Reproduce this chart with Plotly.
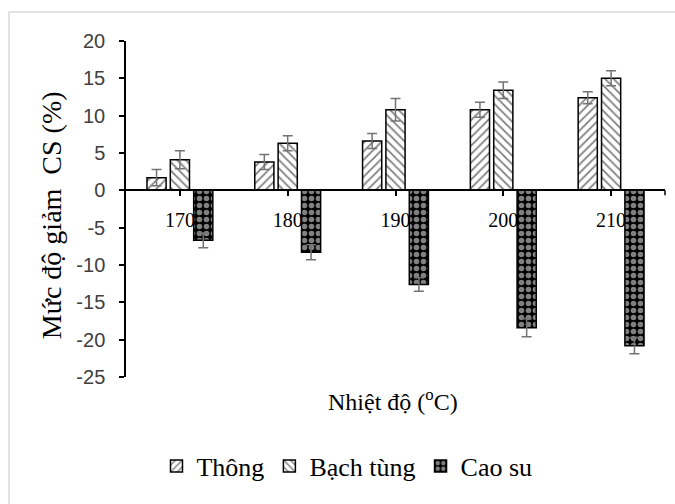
import plotly.graph_objects as go

categories = ["170", "180", "190", "200", "210"]
thong = [1.7, 3.8, 6.6, 10.8, 12.4]
thong_err = [1.1, 1.0, 1.0, 1.0, 0.8]
bach_tung = [4.1, 6.3, 10.8, 13.4, 15.0]
bach_tung_err = [1.2, 1.0, 1.5, 1.1, 1.0]
cao_su = [-6.7, -8.3, -12.6, -18.4, -20.8]
cao_su_err = [1.0, 1.0, 0.9, 1.2, 1.1]
y_ticks = [20, 15, 10, 5, 0, -5, -10, -15, -20, -25]

SERIF = '"Liberation Serif", "Times New Roman", Times, serif'
SANS = '"Liberation Sans Narrow", "Arial Narrow", "Liberation Sans", Arial, sans-serif'

err_style = dict(type="data", visible=True, color="#737373", thickness=1.5, width=5)

fig = go.Figure()
fig.add_trace(go.Bar(
    name="Thông", x=categories, y=thong,
    error_y=dict(array=thong_err, **err_style),
    marker=dict(color="white", line=dict(color="black", width=1.5),
                pattern=dict(shape="/", fgcolor="black", bgcolor="white", size=6, solidity=0.3)),
))
fig.add_trace(go.Bar(
    name="Bạch tùng", x=categories, y=bach_tung,
    error_y=dict(array=bach_tung_err, **err_style),
    marker=dict(color="white", line=dict(color="black", width=1.5),
                pattern=dict(shape="\\", fgcolor="black", bgcolor="white", size=6, solidity=0.3)),
))
fig.add_trace(go.Bar(
    name="Cao su", x=categories, y=cao_su,
    error_y=dict(array=cao_su_err, **err_style),
    marker=dict(color="black", line=dict(color="black", width=1.5),
                pattern=dict(shape=".", fgcolor="white", bgcolor="black", size=7, solidity=0.5)),
))

fig.update_layout(
    width=675, height=504,
    margin=dict(l=126, r=10, t=41, b=127),
    paper_bgcolor="white", plot_bgcolor="white",
    barmode="group", bargap=0.35, bargroupgap=0.18,
    showlegend=True,
    legend=dict(orientation="h", x=0.41, xanchor="center", y=-0.265, yanchor="middle",
                font=dict(family=SERIF, size=26, color="black"),
                itemwidth=30, traceorder="normal"),
    xaxis=dict(
        type="category", anchor="free", position=25 / 45,
        showline=True, linecolor="black", linewidth=1.5,
        ticks="outside", ticklen=5, tickwidth=1.5, tickcolor="black",
        tickfont=dict(family=SERIF, size=20, color="black"),
        ticklabelstandoff=7, showgrid=False, zeroline=False,
    ),
    yaxis=dict(
        range=[-25, 20], tickvals=y_ticks, ticktext=[str(v) for v in y_ticks],
        showline=True, linecolor="black", linewidth=1.5,
        ticks="outside", ticklen=5, tickwidth=1.5, tickcolor="black",
        tickfont=dict(family=SANS, size=20, color="#404040"),
        ticklabelstandoff=10, showgrid=False, zeroline=False,
    ),
    annotations=[
        dict(text="Mức độ giảm  CS (%)", xref="paper", yref="paper",
             x=-0.139, y=0.482, xanchor="center", yanchor="middle", textangle=-90,
             showarrow=False, font=dict(family=SERIF, size=28, color="black")),
        dict(text="Nhiệt độ (<sup>o</sup>C)", xref="paper", yref="paper",
             x=0.495, y=-0.068, xanchor="center", yanchor="middle",
             showarrow=False, font=dict(family=SERIF, size=24, color="black")),
    ],
    shapes=[
        dict(type="rect", xref="paper", yref="paper",
             x0=-0.217, x1=1.2, y0=-0.6, y1=1.086,
             line=dict(color="#d9d9d9", width=1.5), fillcolor="rgba(0,0,0,0)", layer="below"),
        dict(type="line", xref="paper", yref="paper",
             x0=1, x1=1, y0=25 / 45, y1=25 / 45 - 0.015,
             line=dict(color="black", width=1.5)),
    ],
)

fig.write_html("out.html", config={"displayModeBar": False},
               post_script="document.body.style.margin='0';")
